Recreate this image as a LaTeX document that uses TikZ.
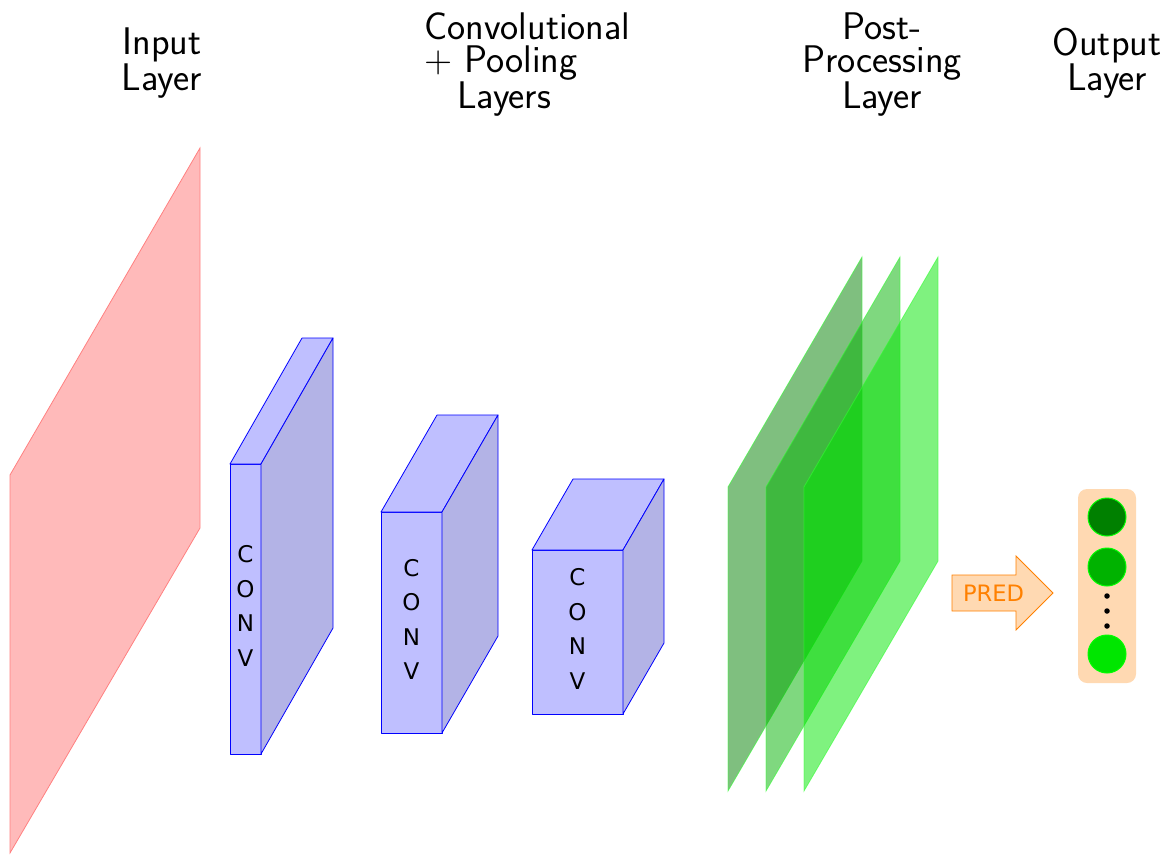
\documentclass[tikz,border=0pt]{standalone}
\usepackage{fontspec}
\newfontfamily\dejavu{DejaVu Sans}
\definecolor{convside}{RGB}{179,179,230}
\definecolor{g1}{RGB}{0,128,0}
\definecolor{g2}{RGB}{0,178,0}
\definecolor{g3}{RGB}{0,230,0}
\definecolor{peach}{RGB}{255,217,178}
\definecolor{predorange}{RGB}{255,128,0}
\tikzset{
  head/.style={font=\sffamily\fontsize{38.5}{33}\selectfont, inner sep=0pt, anchor=north, align=center},
  convface/.style={draw=blue, line width=0.8pt, fill=blue!25, line join=round},
  convsidef/.style={draw=blue, line width=0.8pt, fill=convside, line join=round},
  convtext/.style={font=\dejavu\fontsize{23}{34.5}\selectfont, align=center, inner sep=0pt},
  greenlayer/.style={fill=#1, fill opacity=0.5, draw=green!80, draw opacity=0.6, line width=0.8pt},
  outcircle/.style={circle, minimum size=38pt, inner sep=0pt, fill=#1, draw=green, line width=1pt},
  dotc/.style={circle, fill=black, minimum size=5.5pt, inner sep=0pt},
}
\newcommand{\convbox}[7]{%
  % #1 x, #2 ytop, #3 w, #4 h, #5 dx, #6 dy (up), #7 name
  \path[convface] (#1,#2) rectangle ++(#3,#4);
  \path[convface] (#1,#2) -- ++(#5,-#6) -- ++(#3,0) -- ++(-#5,#6) -- cycle;
  \path[convsidef] (#1+#3,#2) -- ++(#5,-#6) -- ++(0,#4) -- ++(-#5,#6) -- cycle;
  \node[convtext] (#7) at (#1+#3/2, #2+#4/2-3) {C\\O\\N\\V};
}
\begin{document}
\begin{tikzpicture}[x=1pt,y=-1pt]
\useasboundingbox (0,0) rectangle (1167,854);

% headers
\node[head] (hin) at (162,28) {Input\\Layer};
\node[head, anchor=north west, align=left] (hcv) at (424,13) {Convolutional\\+ Pooling\\\hspace*{33pt}Layers};
\node[head] (hpp) at (882,13) {Post-\\Processing\\Layer};
\node[head] (hout) at (1107,28) {Output\\Layer};

% input layer
\path[fill=red!27, draw=red!50, line width=0.8pt] (10,475) -- (200,148) -- (200,528) -- (10,853) -- cycle;

% conv boxes
\convbox{230}{464}{31}{290}{72}{126}{conv1}
\convbox{381}{512}{61}{221}{56}{97}{conv2}
\convbox{532}{550}{91}{164}{41}{71}{conv3}

% post-processing layers
\path[greenlayer=g1] (728,487) -- (862,257) -- (862,561) -- (728,791) -- cycle;
\path[greenlayer=g2] (766,487) -- (900,257) -- (900,561) -- (766,791) -- cycle;
\path[greenlayer=g3] (804,487) -- (938,257) -- (938,561) -- (804,791) -- cycle;

% PRED arrow
\path[fill=peach, draw=predorange, line width=0.8pt, line join=miter]
  (952,575) -- (1016,575) -- (1016,556) -- (1053,593) -- (1016,630) -- (1016,611) -- (952,611) -- cycle;
\node[font=\dejavu\fontsize{22.6}{26}\selectfont, text=predorange, inner sep=0pt] (pred) at (993.5,593) {PRED};

% output layer
\path[fill=peach, rounded corners=9pt] (1078,489) rectangle (1136,683);
\node[outcircle=g1] (o1) at (1107,517) {};
\node[outcircle=g2] (o2) at (1107,567) {};
\node[outcircle=g3] (o3) at (1107,654) {};
\node[dotc] (d1) at (1107,596) {};
\node[dotc] (d2) at (1107,611) {};
\node[dotc] (d3) at (1107,626) {};
\end{tikzpicture}
\end{document}
